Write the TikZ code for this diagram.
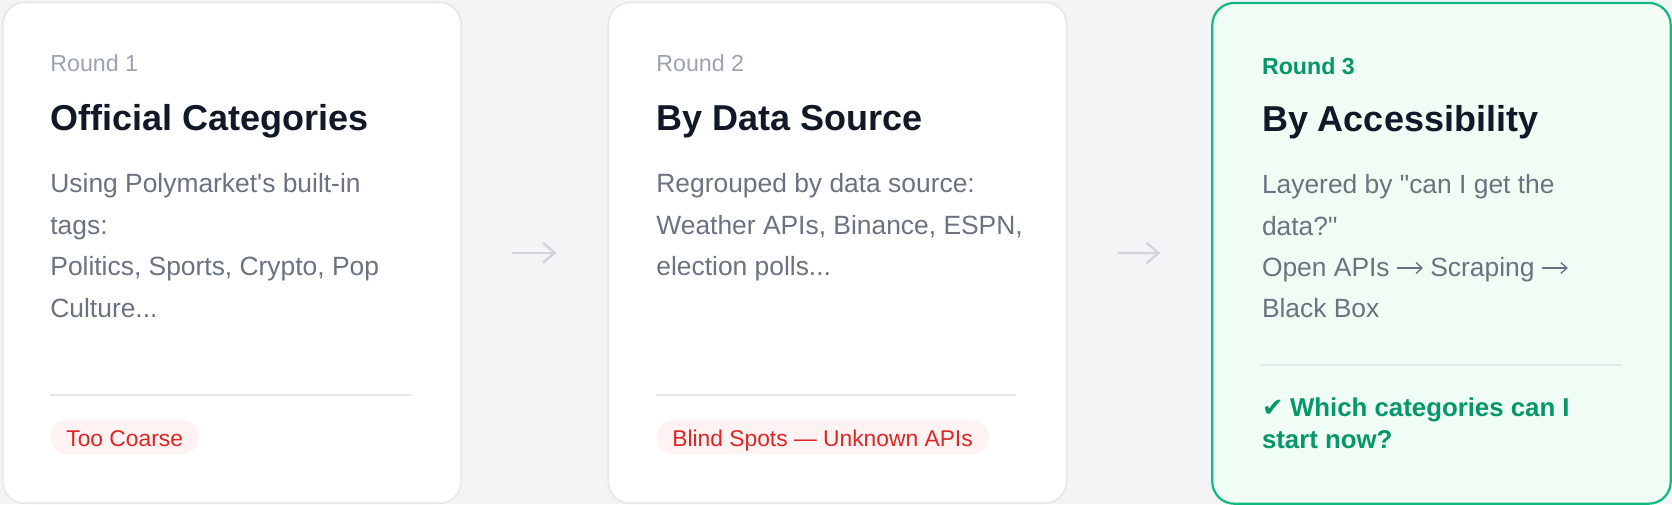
\documentclass[tikz,border=0pt]{standalone}
\usepackage{fontspec}
\setmainfont{Liberation Sans}[Ligatures=TeXOff]
\newfontfamily\symfont{DejaVu Sans}
\usetikzlibrary{arrows.meta}
\definecolor{bgcol}{HTML}{F3F4F6}
\definecolor{cardborder}{HTML}{E5E7EB}
\definecolor{lblcol}{HTML}{9CA3AF}
\definecolor{ttlcol}{HTML}{111827}
\definecolor{bodycol}{HTML}{6B7280}
\definecolor{divcol}{HTML}{E5E7EB}
\definecolor{badgefill}{HTML}{FEF2F2}
\definecolor{badgetxt}{HTML}{DC2626}
\definecolor{greenfill}{HTML}{F0FDF4}
\definecolor{greenborder}{HTML}{10B981}
\definecolor{greentxt}{HTML}{059669}
\definecolor{arrowcol}{HTML}{D1D5DB}
\newcommand{\rarr}{\tikz[baseline=-4.3pt]{\useasboundingbox (0pt,-1pt) rectangle (13pt,1pt);
  \draw[bodycol, line width=0.7pt, -{Straight Barb[length=3pt,width=5.5pt]}] (0pt,0pt) -- (13pt,0pt);}}
\tikzset{
  card/.style={draw=cardborder, fill=white, line width=0.8pt, rounded corners=11pt,
    anchor=north west, minimum width=229.2pt, minimum height=250.4pt, inner sep=0pt},
  cardgreen/.style={card, draw=greenborder, fill=greenfill, line width=1.1pt},
  lbl/.style={anchor=base west, inner sep=0pt, font=\fontsize{11.6}{14}\selectfont, text=lblcol},
  lblgreen/.style={lbl, font=\fontsize{11.6}{14}\selectfont\bfseries, text=greentxt},
  ttl/.style={anchor=base west, inner sep=0pt, font=\fontsize{18}{22}\selectfont\bfseries, text=ttlcol},
  bodyline/.style={anchor=base west, inner sep=0pt, font=\fontsize{13.2}{16}\selectfont, text=bodycol},
  footline/.style={anchor=base west, inner sep=0pt, font=\fontsize{12.9}{15}\selectfont\bfseries, text=greentxt},
  badge/.style={anchor=base west, fill=badgefill, text=badgetxt, rounded corners=8.5pt,
    inner xsep=8pt, inner ysep=0pt, text height=13pt, text depth=4pt, font=\fontsize{11.4}{13}\selectfont},
  divider/.style={draw=divcol, line width=1pt},
  arr/.style={draw=arrowcol, line width=1.2pt, -{Straight Barb[length=5.8pt,width=10pt]},
    shorten <=25pt, shorten >=25.5pt}
}
\begin{document}
\begin{tikzpicture}[x=1pt,y=-1pt]
\useasboundingbox (0,0) rectangle (836,252);
\fill[bgcol] (0,0) rectangle (836,252);

% cards
\node[card] (c1) at (1,0.8) {};
\node[card] (c2) at (303.7,0.8) {};
\node[cardgreen] (c3) at (605.6,0.9) {};

% connectors
\draw[arr] (c1.east) -- (c2.west);
\draw[arr] (c2.east) -- (c3.west);

% card 1
\node[lbl] (l1) at (25,35.8) {Round 1};
\node[ttl] (t1) at (25,65) {Official Categories};
\node[bodyline] (b11) at (25,96.3) {Using Polymarket's built-in};
\node[bodyline] (b12) at (25,117) {tags:};
\node[bodyline] (b13) at (25,137.8) {Politics, Sports, Crypto, Pop};
\node[bodyline] (b14) at (25,158.5) {Culture...};
\draw[divider] (25,197.3) -- (206,197.3);
\node[badge] (g1) at (25,223) {Too Coarse};

% card 2
\node[lbl] (l2) at (328,35.8) {Round 2};
\node[ttl] (t2) at (328,65) {By Data Source};
\node[bodyline] (b21) at (328,96.3) {Regrouped by data source:};
\node[bodyline] (b22) at (328,117) {Weather APIs, Binance, ESPN,};
\node[bodyline] (b23) at (328,137.8) {election polls...};
\draw[divider] (328,197.3) -- (508,197.3);
\node[badge] (g2) at (328,223) {Blind Spots — Unknown APIs};

% card 3
\node[lblgreen] (l3) at (630.8,37) {Round 3};
\node[ttl] (t3) at (630.8,65.8) {By Accessibility};
\node[bodyline] (b31) at (630.8,96.7) {Layered by "can I get the};
\node[bodyline] (b32) at (630.8,117.5) {data?"};
\node[bodyline] (b33) at (630.8,138.3) {Open APIs \rarr{} Scraping \rarr};
\node[bodyline] (b34) at (630.8,158.5) {Black Box};
\draw[divider] (630.5,182.5) -- (811,182.5);
\node[footline] (f31) at (630.8,208) {{\symfont ✔}\hspace{0.25em}Which categories can I};
\node[footline] (f32) at (630.8,224) {start now?};
\end{tikzpicture}
\end{document}
